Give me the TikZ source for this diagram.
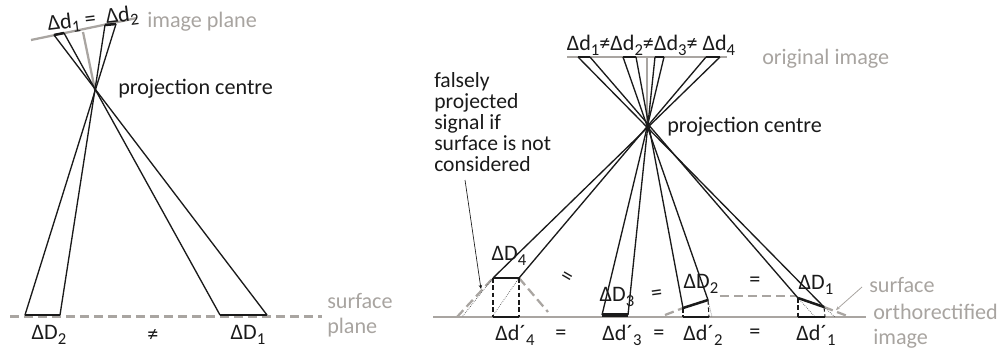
\documentclass[tikz,border=0pt]{standalone}
\usepackage{fontspec}
\setmainfont{Carlito}
\usetikzlibrary{arrows.meta}
\newcommand{\lowr}[1]{\raisebox{-0.45ex}{\fontsize{12.5}{14}\selectfont #1}}
\definecolor{gplane}{HTML}{A9A5A1}
\definecolor{glabel}{HTML}{A8A4A0}
\definecolor{ink}{HTML}{1A1A1A}
\tikzset{
  x=0.75pt,y=-0.75pt,
  ray/.style={draw=ink,line width=1pt},
  thickseg/.style={draw=ink,line width=1.9pt},
  planeline/.style={draw=gplane,line width=1.7pt},
  dashplane/.style={draw=gplane,line width=1.7pt,dash pattern=on 7pt off 3.5pt},
  dashblack/.style={draw=ink,line width=0.8pt,dash pattern=on 3.5pt off 2pt},
  dotray/.style={draw=ink!80,line width=0.5pt,densely dotted},
  lab/.style={inner sep=0pt,font=\fontsize{16.6}{19}\selectfont,text=ink},
  glab/.style={inner sep=0pt,font=\fontsize{16.6}{19}\selectfont,text=glabel,align=left,anchor=west},
}
\begin{document}
\begin{tikzpicture}
\useasboundingbox (0,0) rectangle (1006,350);
% ---------- left
\coordinate (lc) at (95,90);
\coordinate (la) at (54,35); \coordinate (lb) at (64,33);
\coordinate (lp) at (105,25); \coordinate (lq) at (116,24);
\coordinate (D1a) at (220,315); \coordinate (D1b) at (267,315);
\coordinate (D2a) at (25,315); \coordinate (D2b) at (60,315);
\coordinate (lpl) at (31,40); \coordinate (lpr) at (137,18);
\coordinate (lax) at (83,32);
\coordinate (sl) at (10,316.5); \coordinate (sr) at (322,316.5);
\draw[planeline] (lpl) -- (lpr);
\draw[planeline] (lax) -- (lc);
\draw[dashplane] (sl) -- (sr);
\draw[ray] (la) -- (D1b);
\draw[ray] (lb) -- (D1a);
\draw[ray] (lp) -- (D2b);
\draw[ray] (lq) -- (D2a);
\draw[thickseg] (la) -- (lb);
\draw[thickseg] (lp) -- (lq);
\draw[thickseg] (D1a) -- (D1b);
\draw[thickseg] (D2a) -- (D2b);
\node[lab,rotate=7] (t1) at (93,20) {Δd\lowr{1} =\ \ Δd\lowr{2}};
\node[glab] (t2) at (147,22) {image plane};
\node[lab,anchor=west] (t3) at (118,89) {projection centre};
\node[lab] (t4) at (49,335) {ΔD\lowr{2}};
\node[lab] (t5) at (153,335) {≠};
\node[lab] (t6) at (248,335) {ΔD\lowr{1}};
\node[glab,text width=60pt] (t7) at (327,315) {\baselineskip=15pt surface\\plane};
% ---------- right
\coordinate (rc) at (647,127);
\coordinate (r1a) at (578,57); \coordinate (r1b) at (590,57);
\coordinate (r2a) at (623,57); \coordinate (r2b) at (636,57);
\coordinate (r3a) at (655,57); \coordinate (r3b) at (664,57);
\coordinate (r4a) at (706,57); \coordinate (r4b) at (720,57);
\coordinate (R1a) at (798,298); \coordinate (R1b) at (824,307);
\coordinate (R2a) at (683,308); \coordinate (R2b) at (708,300);
\coordinate (R3a) at (602,315); \coordinate (R3b) at (628,315);
\coordinate (R4a) at (493,278); \coordinate (R4b) at (519,278);
\coordinate (G1a) at (798,317); \coordinate (G1b) at (825,317);
\coordinate (G2a) at (683,317); \coordinate (G2b) at (709,317);
\coordinate (G3a) at (602,317); \coordinate (G3b) at (628,317);
\coordinate (G4a) at (493,317); \coordinate (G4b) at (519,317);
\coordinate (ril) at (567,57); \coordinate (rir) at (727,57);
\coordinate (rax) at (647,57);
\coordinate (gl) at (433,317); \coordinate (gr) at (866,317);
\coordinate (sh1) at (720,296); \coordinate (sh2) at (796,296);
\draw[planeline] (ril) -- (rir);
\draw[planeline] (rax) -- (rc);
\draw[planeline] (gl) -- (gr);
% surface
\draw[dashplane] (457,317) -- (R4a);
\draw[dashplane] (R4b) -- (548,312);
\draw[dashplane] (665,315) -- (R2a);
\draw[dashplane] (sh1) -- (sh2);
\draw[dashplane] (R1b) -- (850,317);
% rays
\draw[ray] (r1a) -- (R1b);
\draw[ray] (r1b) -- (R1a);
\draw[ray] (r2a) -- (R2b);
\draw[ray] (r2b) -- (R2a);
\draw[ray] (r3a) -- (R3b);
\draw[ray] (r3b) -- (R3a);
\draw[ray] (r4a) -- (R4b);
\draw[ray] (r4b) -- (R4a);
\foreach \p/\q in {r1a/r1b,r2a/r2b,r3a/r3b,r4a/r4b}{\draw[ink,line width=1pt] (\p) -- (\q);}
% dotted extensions
\draw[dotray] (R4a) -- (462,317);
\draw[dotray] (R4b) -- (492,317);
\draw[dotray] (R2b) -- (712,317);
\draw[dotray] (R1a) -- (815,317);
\draw[dotray] (R1b) -- (835,317);
% verticals
\draw[dashblack] (R4a) -- (G4a);
\draw[dashblack] (R4b) -- (G4b);
\draw[dashblack] (R2a) -- (G2a);
\draw[dashblack] (R2b) -- (G2b);
\draw[dashblack] (R1a) -- (G1a);
\draw[dashblack] (R1b) -- (G1b);
% thick
\draw[thickseg] (R1a) -- (R1b);
\draw[thickseg] (R2a) -- (R2b);
\draw[thickseg,line width=2.6pt] (R3a) -- (R3b);
\draw[thickseg] (R4a) -- (R4b);
\draw[thickseg] (G1a) -- (G1b);
\draw[thickseg] (G2a) -- (G2b);
\draw[thickseg] (G4a) -- (G4b);
% labels
\node[lab] (u1) at (651,45) {Δd\lowr{1}≠Δd\lowr{2}≠Δd\lowr{3}≠ Δd\lowr{4}};
\node[glab] (u2) at (762,59) {original image};
\node[lab,align=left,anchor=north west,font=\fontsize{16.2}{15.75}\selectfont] (u4) at (434,72) {falsely\\projected\\signal if\\surface is not\\considered};
\node[lab,anchor=west] (u3) at (667,127) {projection centre};
\coordinate (u4b) at (465,180);
\draw[draw=ink,line width=0.5pt,-{Stealth[length=3pt,width=2.5pt]}] (u4b) -- (481,289);
\node[lab] (v4) at (509,256) {ΔD\lowr{4}};
\node[lab,rotate=-30] (e1) at (566,278) {=};
\node[lab] (v3) at (617,297) {ΔD\lowr{3}};
\node[lab,rotate=8] (e2) at (657,295) {=};
\node[lab] (v2) at (701,284) {ΔD\lowr{2}};
\node[lab] (e3) at (755,282) {=};
\node[lab] (v1) at (816,285) {ΔD\lowr{1}};
\node[lab] (w4) at (515,335) {Δd´\lowr{4}};
\node[lab] (f1) at (561,335) {=};
\node[lab] (w3) at (622,335) {Δd´\lowr{3}};
\node[lab] (f2) at (659,335) {=};
\node[lab] (w2) at (703,335) {Δd´\lowr{2}};
\node[lab] (f3) at (755,334) {=};
\node[lab] (w1) at (816,335) {Δd´\lowr{1}};
\node[glab] (s1) at (869,285) {surface};
\node[glab,text width=130pt] (s2) at (873,326) {\baselineskip=16pt orthorectified\\image};
\coordinate (slead) at (862,287);
\coordinate (stip) at (836,310);
\draw[draw=gplane,line width=0.6pt,-{Stealth[length=3pt,width=2.5pt]}] (slead) -- (stip);
\end{tikzpicture}
\end{document}
